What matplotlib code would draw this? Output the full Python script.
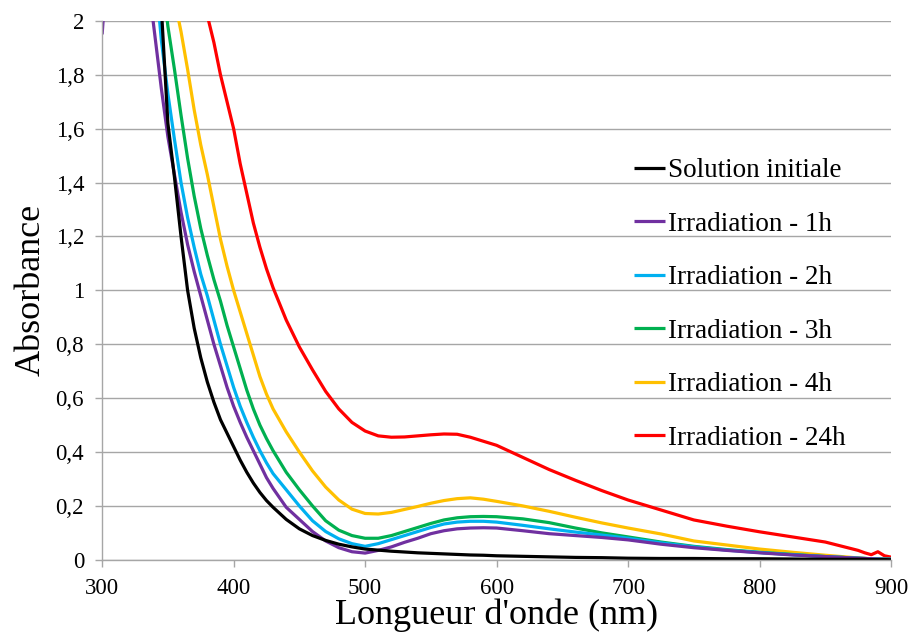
import matplotlib
matplotlib.use("Agg")
import matplotlib.pyplot as plt
from matplotlib.ticker import FuncFormatter, MultipleLocator

# wavelength grid (nm)
wavelength = [300, 305, 335, 340, 345, 350, 355, 360, 365, 370, 375, 380, 385, 390,
              395, 400, 405, 410, 415, 420, 425, 430, 440, 450, 460, 470, 480, 490,
              500, 510, 520, 530, 540, 550, 560, 570, 580, 590, 600, 620, 640, 660,
              680, 700, 725, 750, 775, 800, 825, 850, 875, 880, 885, 890, 895, 900]

solution_initiale = [3.0, 3.0, 2.6, 2.35, 2.05, 1.62, 1.42, 1.2, 1.0, 0.86, 0.75, 0.66, 0.585, 0.52,
                     0.47, 0.42, 0.37, 0.325, 0.285, 0.25, 0.22, 0.195, 0.15, 0.115, 0.09, 0.072, 0.058, 0.048,
                     0.04, 0.036, 0.032, 0.029, 0.026, 0.024, 0.022, 0.02, 0.018, 0.017, 0.015, 0.013, 0.011, 0.009,
                     0.008, 0.006, 0.005, 0.005, 0.004, 0.004, 0.003, 0.002, 0.002, 0.002, 0.001, 0.001, 0.001, 0.0]

irr_1h = [1.95, 2.3, 2.15, 1.95, 1.75, 1.57, 1.43, 1.29, 1.17, 1.07, 0.98, 0.89, 0.8, 0.72,
          0.64, 0.57, 0.51, 0.455, 0.405, 0.355, 0.305, 0.265, 0.195, 0.15, 0.105, 0.07, 0.045, 0.03,
          0.025, 0.035, 0.048, 0.065, 0.08, 0.097, 0.108, 0.115, 0.118, 0.119, 0.118, 0.108, 0.097, 0.09,
          0.083, 0.074, 0.058, 0.045, 0.035, 0.026, 0.018, 0.012, 0.006, 0.005, 0.004, 0.003, 0.002, 0.002]

irr_2h = [3.0, 3.0, 2.5, 2.2, 1.93, 1.73, 1.56, 1.4, 1.27, 1.16, 1.06, 0.98, 0.89, 0.8,
          0.72, 0.64, 0.57, 0.51, 0.455, 0.405, 0.36, 0.32, 0.26, 0.2, 0.145, 0.105, 0.078, 0.06,
          0.05, 0.06, 0.075, 0.09, 0.105, 0.12, 0.133, 0.14, 0.143, 0.143, 0.14, 0.128, 0.115, 0.103,
          0.092, 0.08, 0.063, 0.048, 0.036, 0.027, 0.019, 0.012, 0.006, 0.005, 0.004, 0.003, 0.002, 0.002]

irr_3h = [3.0, 3.0, 2.7, 2.45, 2.2, 1.98, 1.82, 1.65, 1.49, 1.35, 1.23, 1.13, 1.04, 0.96,
          0.87, 0.79, 0.71, 0.63, 0.56, 0.5, 0.45, 0.405, 0.325, 0.26, 0.2, 0.145, 0.11, 0.09,
          0.08, 0.08, 0.09, 0.105, 0.12, 0.135, 0.148, 0.156, 0.16, 0.161, 0.16, 0.152, 0.138, 0.118,
          0.1, 0.085, 0.066, 0.05, 0.038, 0.028, 0.02, 0.012, 0.006, 0.005, 0.004, 0.004, 0.003, 0.003]

irr_4h = [3.0, 3.0, 3.0, 2.7, 2.45, 2.25, 2.08, 1.96, 1.82, 1.67, 1.54, 1.43, 1.31, 1.19,
          1.09, 1.0, 0.92, 0.84, 0.76, 0.68, 0.615, 0.56, 0.475, 0.4, 0.33, 0.27, 0.222, 0.188,
          0.172, 0.17, 0.176, 0.187, 0.198, 0.21, 0.22, 0.227, 0.23, 0.225, 0.217, 0.2, 0.18, 0.158,
          0.137, 0.118, 0.096, 0.07, 0.055, 0.04, 0.028, 0.017, 0.007, 0.005, 0.004, 0.003, 0.002, 0.002]

irr_24h = [3.0, 3.0, 3.0, 3.0, 3.0, 2.8, 2.65, 2.5, 2.35, 2.25, 2.12, 2.02, 1.92, 1.8,
           1.7, 1.6, 1.47, 1.36, 1.25, 1.16, 1.08, 1.01, 0.89, 0.79, 0.705, 0.625, 0.56, 0.51,
           0.478, 0.46, 0.455, 0.456, 0.46, 0.464, 0.467, 0.466, 0.455, 0.44, 0.425, 0.38, 0.335, 0.295,
           0.257, 0.222, 0.185, 0.148, 0.125, 0.104, 0.085, 0.066, 0.035, 0.026, 0.019, 0.03, 0.015, 0.01]

labels = ["Solution initiale", "Irradiation - 1h", "Irradiation - 2h",
          "Irradiation - 3h", "Irradiation - 4h", "Irradiation - 24h"]
colors = ["#000000", "#7030A0", "#00B0F0", "#00B050", "#FFC000", "#FF0000"]
series = [solution_initiale, irr_1h, irr_2h, irr_3h, irr_4h, irr_24h]

plt.rcParams["font.family"] = ["Liberation Serif", "DejaVu Serif"]

fig = plt.figure(figsize=(9.12, 6.34), dpi=100)
ax = fig.add_axes([0.112, 0.117, 0.865, 0.850])

# draw red first so the others sit on top, legend order kept
for y, c, lab in reversed(list(zip(series, colors, labels))):
    ax.plot(wavelength, y, color=c, lw=2.3, label=lab, solid_capstyle="butt")

ax.set_xlim(300, 900)
ax.set_ylim(0, 2)
ax.xaxis.set_major_locator(MultipleLocator(100))
ax.yaxis.set_major_locator(MultipleLocator(0.2))
ax.yaxis.set_major_formatter(FuncFormatter(lambda v, p: f"{round(v, 1):g}".replace(".", ",")))
ax.grid(axis="y", color="#A6A6A6", lw=1.0)
ax.set_axisbelow(True)
for s in ["top", "right"]:
    ax.spines[s].set_visible(False)
for s in ["left", "bottom"]:
    ax.spines[s].set_color("#A6A6A6")
    ax.spines[s].set_linewidth(1.0)
ax.tick_params(axis="both", colors="#A6A6A6", labelcolor="black", labelsize=16.5,
               length=5, width=1.0, direction="out")
ax.tick_params(axis="x", pad=8)
ax.tick_params(axis="y", pad=8)

ax.set_xlabel("Longueur d'onde (nm)", fontsize=26, labelpad=0)
ax.set_ylabel("Absorbance", fontsize=26, labelpad=6)

handles, labs = ax.get_legend_handles_labels()
leg = ax.legend(handles[::-1], labs[::-1], loc="upper left", bbox_to_anchor=(0.66, 0.765),
                frameon=False, fontsize=19.5, handlelength=1.15, handletextpad=0.12,
                labelspacing=1.05, borderaxespad=0)

fig.savefig("out.png", dpi=100)
